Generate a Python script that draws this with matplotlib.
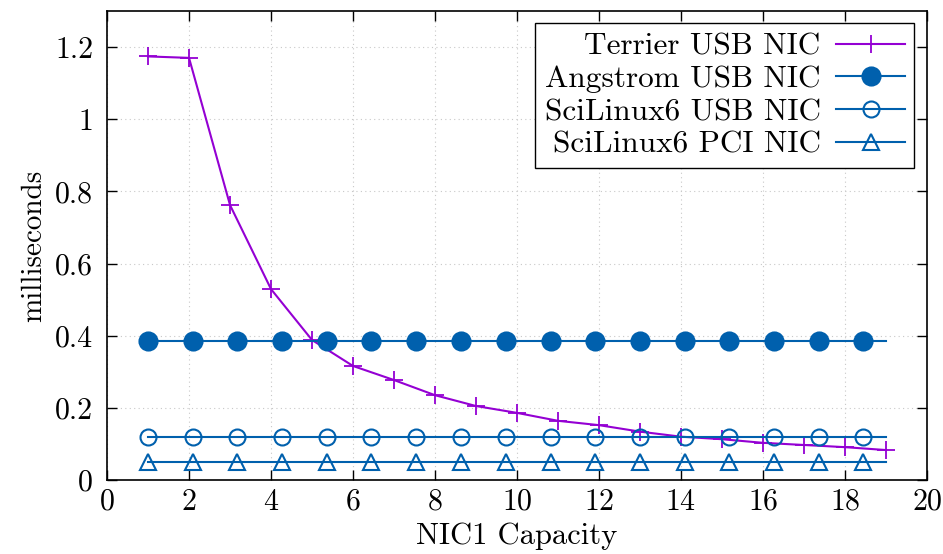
import matplotlib
matplotlib.use("Agg")
import matplotlib.pyplot as plt
from matplotlib.ticker import FuncFormatter, MultipleLocator

# data
capacity = [1, 2, 3, 4, 5, 6, 7, 8, 9, 10, 11, 12, 13, 14, 15, 16, 17, 18, 19]
terrier_usb = [1.174, 1.170, 0.762, 0.529, 0.388, 0.316, 0.277, 0.235, 0.205,
               0.186, 0.164, 0.152, 0.134, 0.120, 0.113, 0.103, 0.097, 0.091, 0.083]

flat_x = [1, 19]
flat_marks_x = [1.0, 2.09, 3.18, 4.27, 5.36, 6.45, 7.54, 8.63, 9.73, 10.82,
                11.91, 13.0, 14.09, 15.18, 16.27, 17.36, 18.45]
angstrom_usb = 0.385
scilinux_usb = 0.120
scilinux_pci = 0.051

purple = "#9400d3"
blue = "#0060ad"

plt.rcParams["font.family"] = ["cmr10", "DejaVu Serif"]
plt.rcParams["axes.formatter.use_mathtext"] = True
plt.rcParams["font.size"] = 21

fig = plt.figure(figsize=(9.43, 5.54), dpi=100)
ax = fig.add_axes([0.1135, 0.1336, 0.8695, 0.8466])

lw = 1.5
ax.plot(capacity, terrier_usb, color=purple, lw=lw, marker="+", ms=13, mew=1.3,
        label="Terrier USB NIC")


def flat(value, marker, face, label, ms):
    ax.plot(flat_x, [value] * len(flat_x), color=blue, lw=lw)
    ax.plot(flat_marks_x, [value] * len(flat_marks_x), ls="none", marker=marker,
            ms=ms, mfc=face, mec=blue, mew=1.5)
    # proxy for legend
    ax.plot([], [], color=blue, lw=lw, marker=marker, ms=ms, mfc=face, mec=blue,
            mew=1.5, label=label)


flat(angstrom_usb, "o", blue, "Angstrom USB NIC", 13)
flat(scilinux_usb, "o", "none", "SciLinux6 USB NIC", 11.5)
flat(scilinux_pci, "^", "none", "SciLinux6 PCI NIC", 11.5)

ax.set_xlim(0, 20)
ax.set_ylim(0, 1.3)
ax.xaxis.set_major_locator(MultipleLocator(2))
ax.yaxis.set_major_locator(MultipleLocator(0.2))
ax.yaxis.set_major_formatter(FuncFormatter(lambda v, p: "%g" % round(v, 2)))
ax.tick_params(direction="in", top=True, right=True, length=7, width=1,
               labelsize=21.5)
ax.tick_params(axis="x", pad=6)
ax.tick_params(axis="y", pad=10)
ax.grid(True, color="#c8c8c8", ls=(0, (1, 3)), lw=0.8)
for s in ax.spines.values():
    s.set_linewidth(1.2)

ax.set_xlabel("NIC1 Capacity", fontsize=22, labelpad=5)
ax.set_ylabel("milliseconds", fontsize=21, labelpad=6)

leg = ax.legend(loc="upper right", markerfirst=False, fancybox=False,
                edgecolor="black", framealpha=1, handlelength=2.2,
                labelspacing=0.15, borderpad=0.3, borderaxespad=0.4,
                handletextpad=0.5, fontsize=22.5)
leg.get_frame().set_linewidth(1.0)

fig.savefig("out.png", dpi=100)
